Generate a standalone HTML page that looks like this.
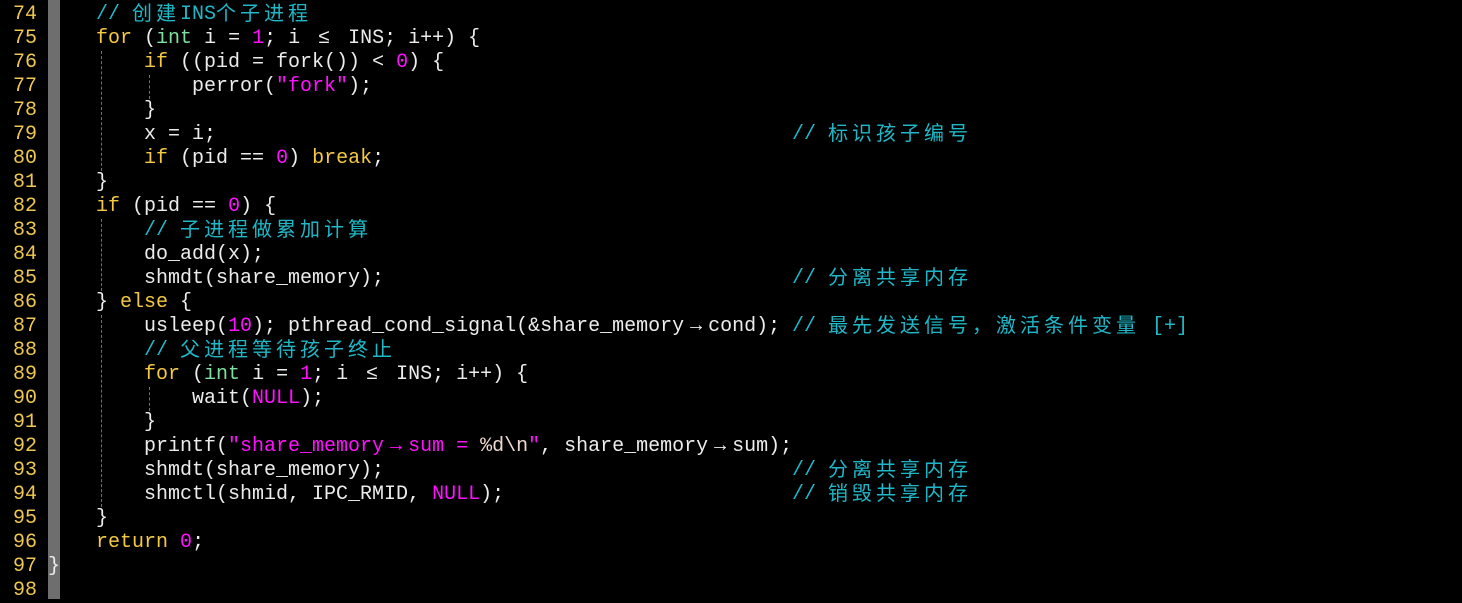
<!DOCTYPE html>
<html><head><meta charset="utf-8"><style>
body{margin:0;width:1462px;height:599px;background:#000;overflow:hidden;position:relative;font-family:"Liberation Mono","Noto Sans CJK SC",monospace;font-size:20px;color:#ececec}
.l{position:absolute;left:48px;height:24px;line-height:24px;white-space:pre}
.cm{position:absolute;left:792px;height:24px;line-height:24px;white-space:pre;color:#1fb8c8}
.num{position:absolute;left:0;width:37px;text-align:right;height:24px;line-height:24px;color:#f0c850}
.bar{position:absolute;left:48px;top:0;width:12px;height:599px;background:#6e6e6e}
.g{position:absolute;width:0;border-left:1px dashed #707070}
.k{color:#f5c842}.n{color:#ff10ff}.t{color:#7ee0a0}.c{color:#1fb8c8}.e{color:#f0d8d0}
.z{font-family:"Noto Sans CJK SC",sans-serif;letter-spacing:4px;display:inline-block;vertical-align:top;height:24px;line-height:24px;position:relative;top:-3px}
.a{display:inline-block;width:24px;text-align:center;vertical-align:top;height:24px;line-height:24px}
</style></head><body>
<div class="bar"></div>
<div class="g" style="left:101px;top:51px;height:120px"></div>
<div class="g" style="left:149px;top:75px;height:24px"></div>
<div class="g" style="left:101px;top:219px;height:72px"></div>
<div class="g" style="left:101px;top:315px;height:192px"></div>
<div class="g" style="left:149px;top:387px;height:24px"></div>

<div class="num" style="top:3px">74</div><div class="l" style="top:3px">    <span class="c">// <span class="z">创建</span>INS<span class="z">个子进程</span></span></div>
<div class="num" style="top:27px">75</div><div class="l" style="top:27px">    <span class="k">for</span> (<span class="t">int</span> i = <span class="n">1</span>; i <span class="a">≤</span> INS; i++) {</div>
<div class="num" style="top:51px">76</div><div class="l" style="top:51px">        <span class="k">if</span> ((pid = fork()) &lt; <span class="n">0</span>) {</div>
<div class="num" style="top:75px">77</div><div class="l" style="top:75px">            perror(<span class="n">"fork"</span>);</div>
<div class="num" style="top:99px">78</div><div class="l" style="top:99px">        }</div>
<div class="num" style="top:123px">79</div><div class="l" style="top:123px">        x = i;</div><div class="cm" style="top:123px">// <span class="z">标识孩子编号</span></div>
<div class="num" style="top:147px">80</div><div class="l" style="top:147px">        <span class="k">if</span> (pid == <span class="n">0</span>) <span class="k">break</span>;</div>
<div class="num" style="top:171px">81</div><div class="l" style="top:171px">    }</div>
<div class="num" style="top:195px">82</div><div class="l" style="top:195px">    <span class="k">if</span> (pid == <span class="n">0</span>) {</div>
<div class="num" style="top:219px">83</div><div class="l" style="top:219px">        <span class="c">// <span class="z">子进程做累加计算</span></span></div>
<div class="num" style="top:243px">84</div><div class="l" style="top:243px">        do_add(x);</div>
<div class="num" style="top:267px">85</div><div class="l" style="top:267px">        shmdt(share_memory);</div><div class="cm" style="top:267px">// <span class="z">分离共享内存</span></div>
<div class="num" style="top:291px">86</div><div class="l" style="top:291px">    } <span class="k">else</span> {</div>
<div class="num" style="top:315px">87</div><div class="l" style="top:315px">        usleep(<span class="n">10</span>); pthread_cond_signal(&amp;share_memory<span class="a">→</span>cond);</div><div class="cm" style="top:315px">// <span class="z">最先发送信号，激活条件变量</span> [+]</div>
<div class="num" style="top:339px">88</div><div class="l" style="top:339px">        <span class="c">// <span class="z">父进程等待孩子终止</span></span></div>
<div class="num" style="top:363px">89</div><div class="l" style="top:363px">        <span class="k">for</span> (<span class="t">int</span> i = <span class="n">1</span>; i <span class="a">≤</span> INS; i++) {</div>
<div class="num" style="top:387px">90</div><div class="l" style="top:387px">            wait(<span class="n">NULL</span>);</div>
<div class="num" style="top:411px">91</div><div class="l" style="top:411px">        }</div>
<div class="num" style="top:435px">92</div><div class="l" style="top:435px">        printf(<span class="n">"share_memory<span class="a">→</span>sum = </span><span class="e">%d\n</span><span class="n">"</span>, share_memory<span class="a">→</span>sum);</div>
<div class="num" style="top:459px">93</div><div class="l" style="top:459px">        shmdt(share_memory);</div><div class="cm" style="top:459px">// <span class="z">分离共享内存</span></div>
<div class="num" style="top:483px">94</div><div class="l" style="top:483px">        shmctl(shmid, IPC_RMID, <span class="n">NULL</span>);</div><div class="cm" style="top:483px">// <span class="z">销毁共享内存</span></div>
<div class="num" style="top:507px">95</div><div class="l" style="top:507px">    }</div>
<div class="num" style="top:531px">96</div><div class="l" style="top:531px">    <span class="k">return</span> <span class="n">0</span>;</div>
<div class="num" style="top:555px">97</div><div class="l" style="top:555px">}</div>
<div class="num" style="top:579px">98</div>
</body></html>
